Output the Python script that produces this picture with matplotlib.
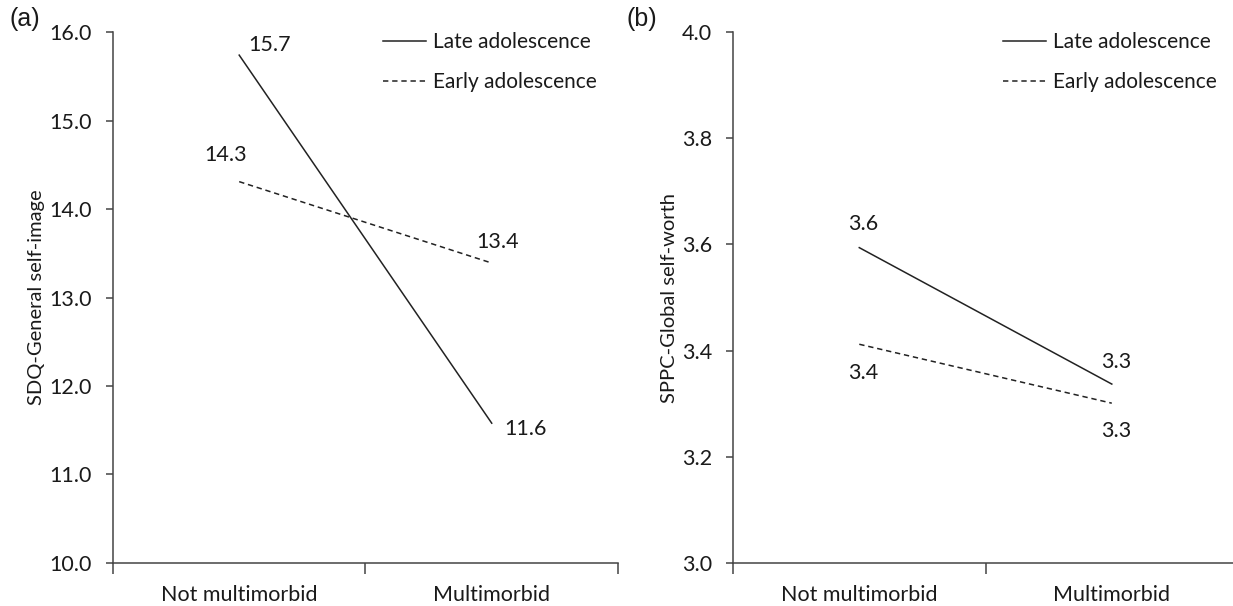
import matplotlib.pyplot as plt

plt.rcParams['font.family'] = ['Lato', 'DejaVu Sans']

# categories on x
groups = ['Not multimorbid', 'Multimorbid']
series_names = ['Late adolescence', 'Early adolescence']

# panel (a): SDQ-General self-image
sdq_late = [15.74, 11.58]
sdq_early = [14.31, 13.39]
sdq_late_lbl = ['15.7', '11.6']
sdq_early_lbl = ['14.3', '13.4']

# panel (b): SPPC-Global self-worth
sppc_late = [3.594, 3.337]
sppc_early = [3.412, 3.301]
sppc_late_lbl = ['3.6', '3.3']
sppc_early_lbl = ['3.4', '3.3']

txt = '#1a1a1a'
lc = '#222222'
fs = 15.5

fig = plt.figure(figsize=(12.33, 6.06), dpi=100)
ax1 = fig.add_axes([0.0916, 0.071, 0.4096, 0.876])
ax2 = fig.add_axes([0.5945, 0.071, 0.4096, 0.876])

xpos = [0.5, 1.5]


def style(ax, ylim, yticks, fmt, ylabel):
    ax.set_xlim(0, 2)
    ax.set_ylim(*ylim)
    for s in ['top', 'right']:
        ax.spines[s].set_visible(False)
    for s in ['left', 'bottom']:
        ax.spines[s].set_color('#444444')
        ax.spines[s].set_linewidth(1.1)
    ax.set_yticks(yticks)
    ax.set_yticklabels([fmt.format(v) for v in yticks])
    ax.tick_params(axis='y', direction='out', length=5, width=1.1, colors='#444444',
                   labelcolor=txt, labelsize=fs, pad=10)
    ax.set_xticks([0, 1, 2])
    ax.set_xticklabels([])
    ax.tick_params(axis='x', which='major', direction='out', length=8, width=1.1, colors='#444444')
    ax.set_xticks(xpos, minor=True)
    ax.set_xticklabels(groups, minor=True)
    ax.tick_params(axis='x', which='minor', length=0, labelsize=fs, labelcolor=txt, pad=16)
    ax.set_ylabel(ylabel, fontsize=fs - 1, color=txt, labelpad=3)


def draw(ax, late, early, late_lbl, early_lbl, offs):
    ax.plot(xpos, late, color=lc, lw=1.1, label=series_names[0])
    ax.plot(xpos, early, color=lc, lw=1.1, ls=(0, (3.5, 2.5)), label=series_names[1])
    pts = [(xpos[0], late[0], late_lbl[0]), (xpos[1], late[1], late_lbl[1]),
           (xpos[0], early[0], early_lbl[0]), (xpos[1], early[1], early_lbl[1])]
    for (x, y, s), (dx, dy) in zip(pts, offs):
        ax.annotate(s, (x, y), xytext=(dx, dy), textcoords='offset points',
                    ha='center', va='center', fontsize=fs, color=txt)
    leg = ax.legend(loc='upper left', bbox_to_anchor=(0.535, 1.0), frameon=False,
                    fontsize=15, handlelength=2.05, handletextpad=0.34, labelspacing=0.97,
                    borderaxespad=0, borderpad=0)
    for t in leg.get_texts():
        t.set_color(txt)


style(ax1, (10, 16), [10, 11, 12, 13, 14, 15, 16], '{:.1f}', 'SDQ-General self-image')
draw(ax1, sdq_late, sdq_early, sdq_late_lbl, sdq_early_lbl,
     [(22, 7), (24, -4), (-10, 19), (4, 15)])

style(ax2, (3.0, 4.0), [3.0, 3.2, 3.4, 3.6, 3.8, 4.0], '{:.1f}', 'SPPC-Global self-worth')
draw(ax2, sppc_late, sppc_early, sppc_late_lbl, sppc_early_lbl,
     [(3, 17), (3, 16), (3, -21), (3, -20)])

fig.text(0.008, 0.968, '(a)', fontsize=18, color=txt, va='center', ha='left',
         family='Liberation Sans')
fig.text(0.508, 0.968, '(b)', fontsize=18, color=txt, va='center', ha='left',
         family='Liberation Sans')

fig.savefig('out.png', dpi=100)
